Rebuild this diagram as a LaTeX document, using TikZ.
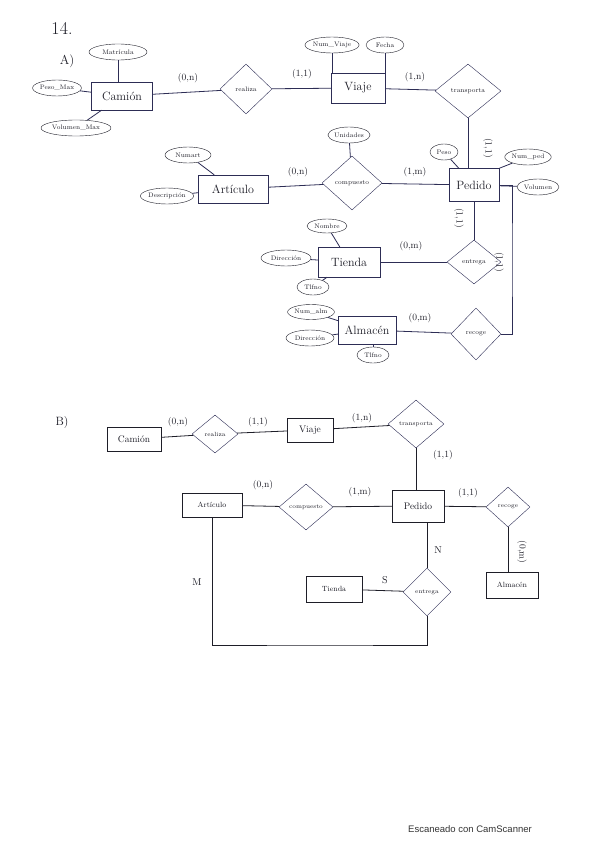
\documentclass[tikz,border=0pt]{standalone}
\usetikzlibrary{shapes.geometric}
\usepackage{fontspec}
\newfontfamily\scanfont{Liberation Sans}
\definecolor{ink}{RGB}{45,45,85}
\definecolor{pen}{RGB}{30,30,40}
\tikzset{
  ent/.style={draw=ink, rectangle, inner sep=1pt, text=pen, font=\fontsize{12}{13}\selectfont},
  entb/.style={draw=pen, rectangle, inner sep=1pt, text=pen, font=\fontsize{9.5}{10}\selectfont},
  rel/.style={draw=ink, diamond, inner sep=0pt, text=pen, font=\fontsize{6.5}{7}\selectfont},
  att/.style={draw=pen, ellipse, inner sep=0pt, minimum height=16, text=pen, font=\fontsize{6.5}{7}\selectfont},
  card/.style={text=pen, inner sep=0pt, font=\fontsize{9.5}{10}\selectfont},
  conn/.style={draw=ink, line width=0.8pt},
}
\begin{document}
\begin{tikzpicture}[x=1pt,y=-1pt]
\useasboundingbox[fill=white] (0,0) rectangle (599,848);

% ---------- headings ----------
\node[text=pen, font=\fontsize{18}{20}\selectfont] (title) at (62,28) {14.};
\node[text=pen, font=\fontsize{13}{14}\selectfont] (partA) at (67,61) {A)};
\node[text=pen, font=\fontsize{12}{13}\selectfont] (partB) at (62,423) {B)};

% ---------- Part A ----------
\node[ent, minimum width=61, minimum height=28] (camA) at (122,96) {Camión};
\node[att, minimum width=58] (matA) at (118,52) {Matrícula};
\node[att, minimum width=48] (pesoA) at (57,88) {Peso\_Max};
\node[att, minimum width=70] (volA) at (76,128) {Volumen\_Max};
\draw[conn] (matA) -- (matA |- camA.north);
\draw[conn] (pesoA) -- (camA);
\draw[conn] (volA) -- (camA);

\node[rel, minimum width=52, minimum height=50] (reaA) at (246,89) {realiza};
\node[ent, minimum width=54, minimum height=30] (viaA) at (358,88) {Viaje};
\node[att, minimum width=52] (nvA) at (332,45) {Num\_Viaje};
\node[att, minimum width=38] (feA) at (385,45) {Fecha};
\draw[conn] (nvA) -- (nvA |- viaA.north);
\draw[conn] (feA) -- (feA |- viaA.north);

\node[rel, minimum width=66, minimum height=54] (traA) at (468,91) {transporta};
\node[ent, minimum width=50, minimum height=33] (pedA) at (474,185) {Pedido};
\node[att, minimum width=28] (peA) at (444,152) {Peso};
\node[att, minimum width=40] (npA) at (528,157) {Num\_ped};
\node[att, minimum width=42] (voA) at (538,187) {Volumen};
\draw[conn] (peA) -- (pedA);
\draw[conn] (npA) -- (pedA.north east);
\draw[conn] (voA) -- (pedA);

\node[rel, minimum width=60, minimum height=54] (comA) at (352,183) {compuesto};
\node[att, minimum width=42] (unA) at (349,135) {Unidades};
\draw[conn] (unA) -- (comA);

\node[ent, minimum width=70, minimum height=28] (artA) at (233,189) {Artículo};
\node[att, minimum width=46] (naA) at (188,155) {Numart};
\node[att, minimum width=48] (deA) at (167,196) {Descripción};
\draw[conn] (naA) -- (artA);
\draw[conn] (deA) -- (artA);

\node[rel, minimum width=54, minimum height=44] (entA) at (474,262) {entrega};
\node[ent, minimum width=62, minimum height=30] (tieA) at (349,262) {Tienda};
\node[att, minimum width=40, minimum height=14] (noA) at (327,226) {Nombre};
\node[att, minimum width=50] (diA) at (286,258) {Dirección};
\node[att, minimum width=32] (tlA) at (313,287) {Tlfno};
\draw[conn] (noA) -- (tieA);
\draw[conn] (diA) -- (tieA);
\draw[conn] (tlA) -- (tieA);

\node[ent, minimum width=58, minimum height=28] (almA) at (367,330) {Almacén};
\node[att, minimum width=46, minimum height=15] (nalA) at (311,312) {Num\_alm};
\node[att, minimum width=48] (dalA) at (310,338) {Dirección};
\node[att, minimum width=32] (tl2A) at (373,355) {Tlfno};
\draw[conn] (nalA) -- (almA);
\draw[conn] (dalA) -- (almA);
\draw[conn] (tl2A) -- (tl2A |- almA.south);

\node[rel, minimum width=50, minimum height=52] (recA) at (476,334) {recoge};
\coordinate (rtA) at (512,260);

\draw[conn] (camA) -- (reaA);
\draw[conn] (reaA) -- (viaA);
\draw[conn] (viaA) -- (traA);
\draw[conn] (traA.south) -- (traA.south |- pedA.north);
\draw[conn] (artA) -- (comA);
\draw[conn] (comA) -- (pedA);
\draw[conn] (pedA.south) -- (pedA.south |- entA.north);
\draw[conn] (tieA) -- (entA);
\draw[conn] (almA) -- (recA);
\draw[conn] (pedA.east) -| (rtA) |- (recA.east);

\node[card] (cA1) at (188,78) {(0,n)};
\node[card] (cA2) at (302,74) {(1,1)};
\node[card] (cA3) at (415,77) {(1,n)};
\node[card, rotate=-90] (cA4) at (488,148) {(1,1)};
\node[card] (cA5) at (298,172) {(0,n)};
\node[card] (cA6) at (415,172) {(1,m)};
\node[card, rotate=-90] (cA7) at (459,218) {(1,1)};
\node[card, rotate=-90] (cA8) at (499,262) {(1,1)};
\node[card] (cA9) at (411,246) {(0,m)};
\node[card] (cA10) at (420,318) {(0,m)};

% ---------- Part B ----------
\node[entb, minimum width=54, minimum height=24] (camB) at (134,439) {Camión};
\node[rel, minimum width=46, minimum height=38, font=\fontsize{6}{7}\selectfont] (reaB) at (215,434) {realiza};
\node[entb, minimum width=46, minimum height=24] (viaB) at (310,430) {Viaje};
\node[rel, minimum width=56, minimum height=48, font=\fontsize{6}{7}\selectfont] (traB) at (416,424) {transporta};
\node[entb, minimum width=52, minimum height=32] (pedB) at (418,506) {Pedido};
\node[rel, minimum width=44, minimum height=40, font=\fontsize{6}{7}\selectfont] (recB) at (508,507) {recoge};
\node[entb, minimum width=52, minimum height=26, font=\fontsize{7.5}{8}\selectfont] (almB) at (512,585) {Almacén};
\node[entb, minimum width=60, minimum height=24, font=\fontsize{7.5}{8}\selectfont] (artB) at (212,505) {Artículo};
\node[rel, minimum width=54, minimum height=46, font=\fontsize{6}{7}\selectfont] (comB) at (306,507) {compuesto};
\node[rel, minimum width=48, minimum height=48, font=\fontsize{6}{7}\selectfont] (entB) at (427,592) {entrega};
\node[entb, minimum width=56, minimum height=26, font=\fontsize{7.5}{8}\selectfont] (tieB) at (334,589) {Tienda};
\coordinate (loopB) at (320,645);

\draw[conn, draw=pen] (camB) -- (reaB);
\draw[conn, draw=pen] (reaB) -- (viaB);
\draw[conn, draw=pen] (viaB) -- (traB);
\draw[conn, draw=pen] (traB.south) -- (traB.south |- pedB.north);
\draw[conn, draw=pen] (pedB) -- (recB);
\draw[conn, draw=pen] (recB.south) -- (recB.south |- almB.north);
\draw[conn, draw=pen] (artB) -- (comB);
\draw[conn, draw=pen] (comB) -- (pedB);
\draw[conn, draw=pen] (entB.north) -- (entB.north |- pedB.south);
\draw[conn, draw=pen] (tieB) -- (entB);
\draw[conn, draw=pen] (entB.south) |- (loopB) -| (artB.south);

\node[card] (cB1) at (178,422) {(0,n)};
\node[card] (cB2) at (258,422) {(1,1)};
\node[card] (cB3) at (362,418) {(1,n)};
\node[card] (cB4) at (443,455) {(1,1)};
\node[card] (cB5) at (263,485) {(0,n)};
\node[card] (cB6) at (360,492) {(1,m)};
\node[card] (cB7) at (468,493) {(1,1)};
\node[card, rotate=-90] (cB8) at (522,552) {(0,m)};
\node[card, font=\fontsize{10}{11}\selectfont] (cB9) at (438,550) {N};
\node[card, font=\fontsize{10}{11}\selectfont] (cB10) at (385,580) {S};
\node[card, font=\fontsize{10}{11}\selectfont] (cB11) at (197,582) {M};

% ---------- footer ----------
\node[text=black!80, font=\scanfont\fontsize{9.5}{11}\selectfont] (scan) at (470,829) {Escaneado con CamScanner};
\end{tikzpicture}
\end{document}
